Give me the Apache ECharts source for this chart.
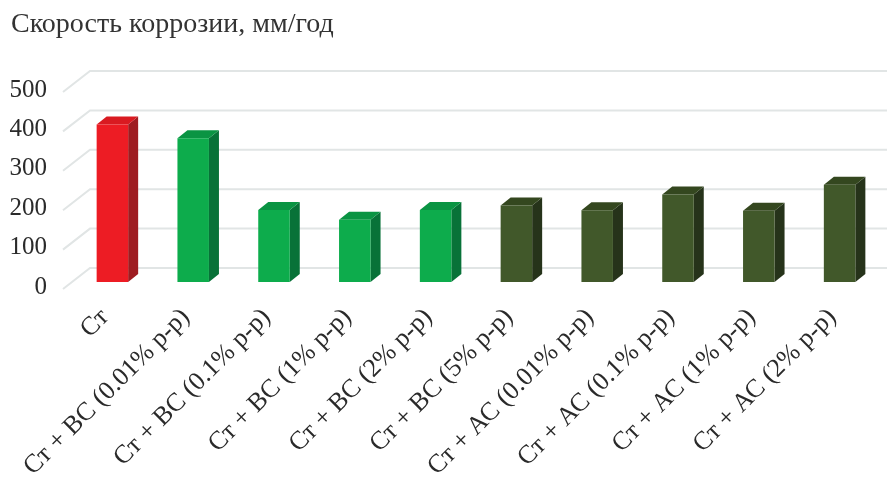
<!DOCTYPE html>
<html><head><meta charset="utf-8">
<script src="https://cdn.jsdelivr.net/npm/echarts@6/dist/echarts.min.js"></script>
<style>html,body{margin:0;padding:0;background:#fff}#c{width:887px;height:477px}</style>
</head><body><div id="c"></div>
<script>
const categories = ['Ст','Ст + ВС (0.01% р-р)','Ст + ВС (0.1% р-р)','Ст + ВС (1% р-р)','Ст + ВС (2% р-р)','Ст + ВС (5% р-р)','Ст + АС (0.01% р-р)','Ст + АС (0.1% р-р)','Ст + АС (1% р-р)','Ст + АС (2% р-р)'];
const values = [400, 365, 183, 158, 183, 194, 182, 222, 181, 247];
const groups = [0, 1, 1, 1, 1, 2, 2, 2, 2, 2];
const yTicks = [0, 100, 200, 300, 400, 500];
const palette = [
  {front:'#ed1c24', side:'#9e1c21', top:'#d91a21'},
  {front:'#0dac4c', side:'#087238', top:'#0a9443'},
  {front:'#41582a', side:'#26331a', top:'#34471f'}
];
const DX = 10, DY = 8;
const font = '"Liberation Serif", "DejaVu Serif", serif';
const chart = echarts.init(document.getElementById('c'), null, {renderer:'canvas'});
chart.setOption({
  animation:false,
  title:{text:'Скорость коррозии, мм/год', left:6, top:6,
    textStyle:{fontFamily:font, fontSize:28, fontWeight:'normal', color:'#333'}},
  grid:{left:72, right:7, top:85, bottom:195, outerBoundsMode:'none', containLabel:false},
  xAxis:{type:'category', data:categories,
    axisLine:{show:false}, axisTick:{show:false},
    axisLabel:{interval:0, rotate:45, margin:24,
      formatter:function(s){ return s + '\u2009\u2009'; },
      fontFamily:font, fontSize:26, color:'#2a2a2a'}},
  yAxis:{type:'value', min:0, max:500, interval:100,
    splitLine:{show:false}, axisLine:{show:false}, axisTick:{show:false},
    axisLabel:{show:false}},
  series:[
    {type:'custom', z:1, silent:true,
      data: yTicks.map(v => [0, v]),
      renderItem:function(params, api){
        const cs = params.coordSys;
        const v = api.value(1);
        const y = api.coord([0, v])[1];
        return {type:'group', children:[
          {type:'polyline', shape:{points:[[cs.x-9, y+7],[cs.x+18, y-14],[cs.x+cs.width+30, y-14]]},
            style:{stroke:'#e1e5e5', lineWidth:2, fill:null}},
          {type:'text', x:cs.x-25, y:y+5,
            style:{text:String(v), align:'right', verticalAlign:'middle',
              font:'25px ' + font, fill:'#2a2a2a'}}
        ]};
      }},
    {type:'custom', z:2,
      data: values.map((v,i) => [i, v, groups[i]]),
      renderItem:function(params, api){
        const i = api.value(0), v = api.value(1), g = palette[api.value(2)];
        const base = api.coord([i, 0]), top = api.coord([i, v]);
        const w = api.size([1, 0])[0] * 0.39;
        const x0 = base[0] - w/2, x1 = x0 + w, yt = top[1], yb = base[1];
        return {type:'group', children:[
          {type:'polygon', shape:{points:[[x1,yt],[x1+DX,yt-DY],[x1+DX,yb-DY],[x1,yb]]}, style:{fill:g.side}},
          {type:'polygon', shape:{points:[[x0,yt],[x0+DX,yt-DY],[x1+DX,yt-DY],[x1,yt]]}, style:{fill:g.top}},
          {type:'rect', shape:{x:x0, y:yt, width:w, height:yb-yt}, style:{fill:g.front}}
        ]};
      }}
  ]
});
</script></body></html>
